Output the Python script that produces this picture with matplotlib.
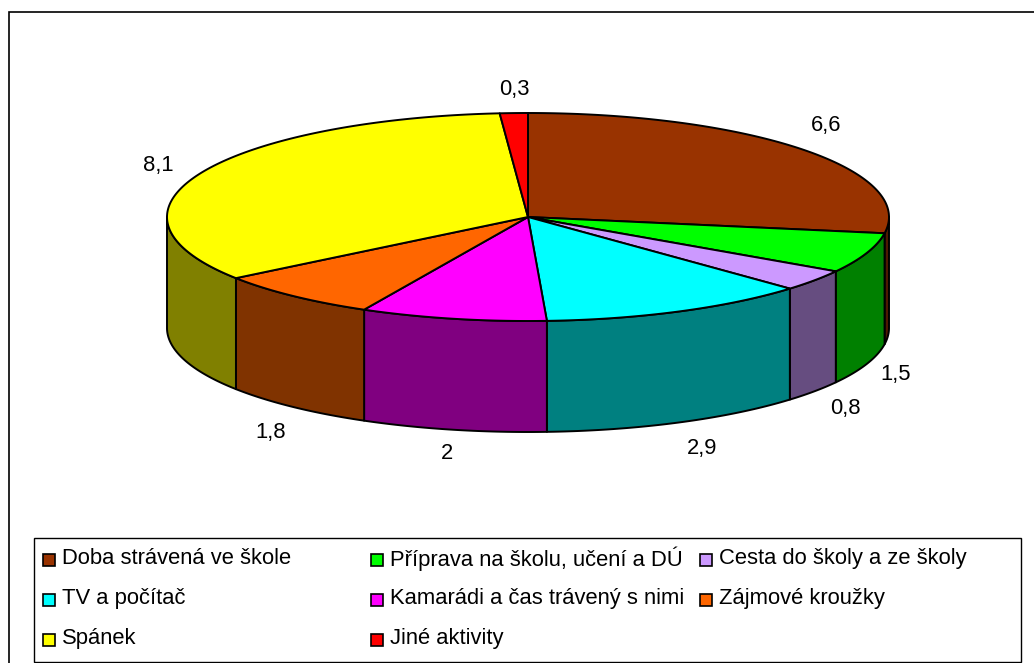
import numpy as np
import matplotlib
matplotlib.use("Agg")
import matplotlib.pyplot as plt
from matplotlib.patches import Rectangle

plt.rcParams["font.family"] = ["Liberation Sans", "DejaVu Sans"]

names = [
    "Doba strávená ve škole",
    "Příprava na školu, učení a DÚ",
    "Cesta do školy a ze školy",
    "TV a počítač",
    "Kamarádi a čas trávený s nimi",
    "Zájmové kroužky",
    "Spánek",
    "Jiné aktivity",
]
values = [6.6, 1.5, 0.8, 2.9, 2, 1.8, 8.1, 0.3]
labels = ["6,6", "1,5", "0,8", "2,9", "2", "1,8", "8,1", "0,3"]

top_colors = ["#993300", "#00ff00", "#cc99ff", "#00ffff", "#ff00ff", "#ff6600", "#ffff00", "#ff0000"]
side_colors = ["#4d1a00", "#008000", "#664d80", "#008080", "#800080", "#803300", "#808000", "#800000"]

# label offsets from the slice edge, in pixels
label_off = [(24, -24), (29, 11), (31, 17), (23, 26), (-6, 24), (-23, 25), (-42, -8), (1, -24)]

cx, cy, rx, ry, depth = 528, 217, 361, 104, 111
FS = 15.8

fig = plt.figure(figsize=(10.34, 6.63), dpi=100)
ax = fig.add_axes([0, 0, 1, 1])
ax.set_xlim(0, 1034)
ax.set_ylim(663, 0)
ax.axis("off")


def rim(a0, a1):
    # angles are degrees clockwise from the top of the pie
    t = np.radians(np.linspace(a0, a1, 120))
    return cx + rx * np.sin(t), cy - ry * np.cos(t)


# outer frame runs off the right and bottom of the picture
ax.add_patch(Rectangle((8.5, 12), 1060, 680, fc="white", ec="black", lw=1.2))

edges = np.concatenate([[0], np.cumsum(values)]) / sum(values) * 360

# sides first, only the part facing the viewer
for i in range(len(values)):
    a0, a1 = max(edges[i], 90), min(edges[i + 1], 270)
    if a1 <= a0:
        continue
    x, y = rim(a0, a1)
    ax.fill(np.r_[x, x[::-1]], np.r_[y, y[::-1] + depth],
            fc=side_colors[i], ec="black", lw=1.4, joinstyle="round")

for i in range(len(values)):
    x, y = rim(edges[i], edges[i + 1])
    ax.fill(np.r_[cx, x], np.r_[cy, y], fc=top_colors[i], ec="black", lw=1.4, joinstyle="round")

for i, lab in enumerate(labels):
    mid = (edges[i] + edges[i + 1]) / 2
    t = np.radians(mid)
    px = cx + rx * np.sin(t)
    py = cy - ry * np.cos(t)
    if 90 < mid < 270:
        py += depth
    ax.text(px + label_off[i][0], py + label_off[i][1], lab, fontsize=FS, ha="center", va="center")

# legend box
ax.add_patch(Rectangle((34, 538), 987, 123.5, fc="white", ec="black", lw=1.0, zorder=3))
col_x = [43, 371, 700]
row_y = [559, 599, 639]
for i, name in enumerate(names):
    x = col_x[i % 3]
    y = row_y[i // 3]
    ax.add_patch(Rectangle((x, y - 5.5), 12, 12, fc=top_colors[i], ec="black", lw=1.2, zorder=4))
    ax.text(x + 19, y - 0.5, name, fontsize=FS, ha="left", va="center", zorder=4)

fig.savefig("out.png", dpi=100)
